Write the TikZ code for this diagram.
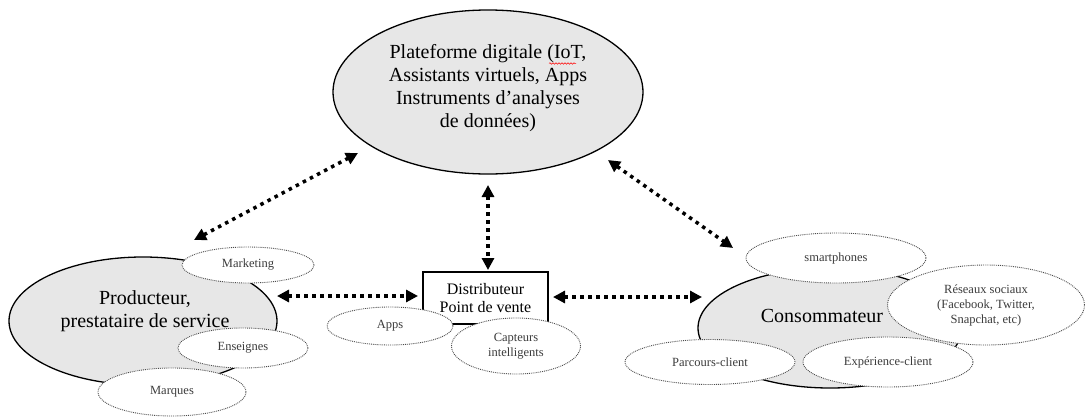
\documentclass[tikz,border=0pt]{standalone}
\usepackage{fontspec}
\setmainfont{Liberation Serif}
\usetikzlibrary{shapes.geometric,arrows.meta,decorations.pathmorphing}
\definecolor{bigfill}{RGB}{231,231,231}
\definecolor{smalltext}{RGB}{60,60,60}
\tikzset{
  bigell/.style={ellipse, draw=black, line width=1.3pt, fill=bigfill, inner sep=0pt},
  smallell/.style={ellipse, draw=black!70, densely dotted, line width=0.9pt, fill=white, inner sep=0pt,
    text=smalltext, font=\fontsize{12.5}{15}\selectfont, align=center},
  bigtext/.style={font=\fontsize{20}{23}\selectfont, align=center, inner sep=0pt},
  boxnode/.style={draw=black, line width=1.3pt, fill=white, minimum width=125pt, minimum height=52pt,
    inner sep=0pt, align=center, font=\fontsize{16}{18.5}\selectfont},
  dotarrow/.style={line width=3.5pt, dash pattern=on 3.5pt off 4.5pt,
    {Triangle[length=12pt,width=12pt]}-{Triangle[length=12pt,width=12pt]}}
}
\begin{document}
\begin{tikzpicture}[x=1pt,y=-1pt]
\useasboundingbox (0,0) rectangle (1085,418);

% top platform ellipse
\node[bigell, minimum width=310pt, minimum height=164pt] (plat) at (488,92) {};
\node[bigtext] (plattext) at (488,88) {Plateforme digitale (IoT,\\Assistants virtuels, Apps\\Instruments d’analyses\\de données)};
\draw[red, line width=0.5pt, decorate, decoration={snake, amplitude=0.8pt, segment length=3pt}] (549,63.5) -- (576,63.5);

% producer
\node[bigell, minimum width=268pt, minimum height=128pt] (prod) at (143,321) {};
\node[bigtext] (prodtext) at (145,311) {Producteur,\\prestataire de service};
\node[smallell, minimum width=132pt, minimum height=36pt] (marketing) at (248,265) {Marketing};
\node[smallell, minimum width=130pt, minimum height=40pt] (enseignes) at (243,348) {Enseignes};
\node[smallell, minimum width=148pt, minimum height=48pt] (marques) at (172,392) {Marques};

% consumer
\node[bigell, minimum width=264pt, minimum height=120pt] (cons) at (830,328) {};
\node[bigtext] (constext) at (822,316) {Consommateur};
\node[smallell, minimum width=180pt, minimum height=50pt] (smart) at (836,258) {smartphones};
\node[smallell, minimum width=197pt, minimum height=80pt] (reseaux) at (986,305) {Réseaux sociaux\\(Facebook, Twitter,\\Snapchat, etc)};
\node[smallell, minimum width=170pt, minimum height=45pt] (parcours) at (710,362) {Parcours-client};
\node[smallell, minimum width=170pt, minimum height=50pt] (experience) at (888,362) {Expérience-client};

% distributor box
\node[boxnode] (dist) at (485.5,298) {Distributeur\\Point de vente};
\node[smallell, minimum width=126pt, minimum height=38pt] (apps) at (390,326) {Apps};
\node[smallell, minimum width=129pt, minimum height=56pt] (capteurs) at (516,346) {Capteurs\\intelligents};

% arrow ends
\coordinate (a1) at (194,240);
\coordinate (a2) at (358,153);
\coordinate (b1) at (608,160);
\coordinate (b2) at (733,248);
\coordinate (c1) at (488,185);
\coordinate (c2) at (488,270);
\coordinate (d1) at (277,296);
\coordinate (d2) at (418,296);
\coordinate (e1) at (553,297);
\coordinate (e2) at (702,297);

\draw[dotarrow] (a1) -- (a2);
\draw[dotarrow] (b1) -- (b2);
\draw[dotarrow] (c1) -- (c2);
\draw[dotarrow] (d1) -- (d2);
\draw[dotarrow] (e1) -- (e2);
\end{tikzpicture}
\end{document}
